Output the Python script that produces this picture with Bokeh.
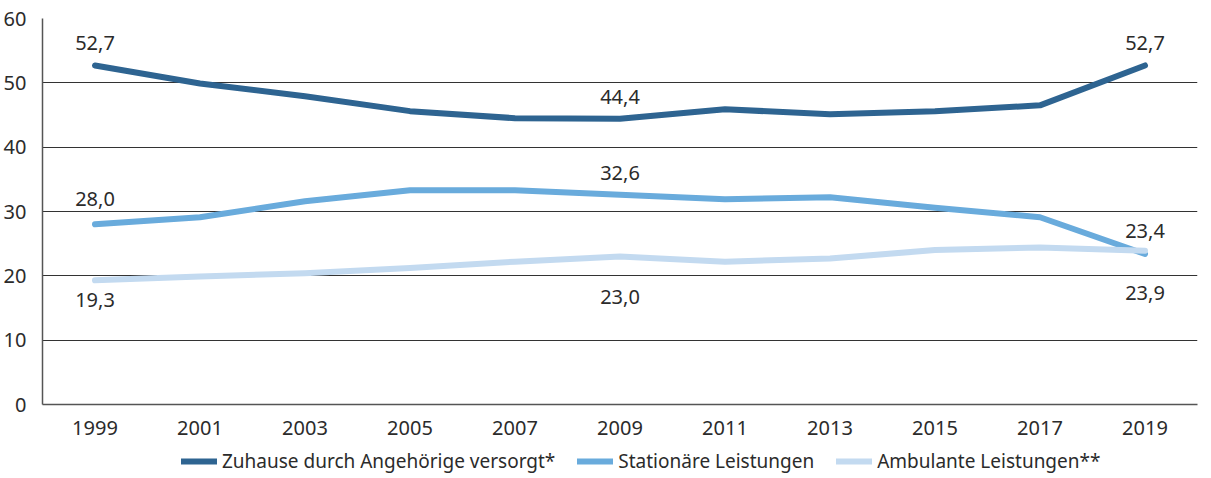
from bokeh.plotting import figure
from bokeh.layouts import column
from bokeh.models import (ColumnDataSource, Legend, LegendItem, SingleIntervalTicker,
                          Range1d, FactorRange)
from bokeh.core.properties import value
from bokeh.embed import file_html
from bokeh.resources import INLINE

years = ["1999", "2001", "2003", "2005", "2007", "2009", "2011", "2013", "2015", "2017", "2019"]
zuhause = [52.7, 49.9, 47.9, 45.6, 44.5, 44.4, 45.9, 45.1, 45.6, 46.5, 52.7]
stationaer = [28.0, 29.1, 31.6, 33.3, 33.3, 32.6, 31.9, 32.2, 30.6, 29.1, 23.4]
ambulant = [19.3, 19.9, 20.4, 21.2, 22.2, 23.0, 22.2, 22.7, 24.0, 24.4, 23.9]
series_names = ["Zuhause durch Angehörige versorgt*", "Stationäre Leistungen", "Ambulante Leistungen**"]
label_years = ["1999", "2009", "2019"]

colors = ["#2e6491", "#69abdc", "#c3daf0"]
# pixel offsets of the value labels (negative = above the line)
label_offsets = [[-22, -22, -22], [-25, -22, -23], [20, 40, 42]]

FONT = "Noto Sans"
TXT = "#2b2b2b"

p = figure(x_range=FactorRange(*years), y_range=Range1d(0, 60),
           width=1199, height=440,
           min_border_left=36, min_border_right=2, min_border_top=18, min_border_bottom=36,
           output_backend="svg", toolbar_location=None)
p.outline_line_color = None
p.background_fill_color = "white"

p.xgrid.grid_line_color = None
p.ygrid.grid_line_color = "#333333"
p.ygrid.grid_line_width = 1
p.yaxis.ticker = SingleIntervalTicker(interval=10)

for ax in (p.xaxis, p.yaxis):
    ax.major_tick_line_color = None
    ax.minor_tick_line_color = None
    ax.axis_line_color = "#555555"
    ax.axis_line_width = 1.5
    ax.major_label_text_font = FONT
    ax.major_label_text_font_size = "20px"
    ax.major_label_text_color = TXT
p.yaxis.major_label_standoff = 10
p.xaxis.major_label_standoff = 10

for vals, col in zip([zuhause, stationaer, ambulant], colors):
    src = ColumnDataSource(dict(x=years, y=vals))
    p.line("x", "y", source=src, line_color=col, line_width=6,
           line_cap="round", line_join="round")

for vals, offs in zip([zuhause, stationaer, ambulant], label_offsets):
    ys = [vals[years.index(yr)] for yr in label_years]
    txt = [f"{v:.1f}".replace(".", ",") for v in ys]
    src = ColumnDataSource(dict(x=label_years, y=ys, t=txt, off=offs))
    p.text("x", "y", text="t", y_offset="off", source=src,
           text_align="center", text_baseline="middle",
           text_font=value(FONT), text_font_size="20px", text_color=TXT)

# legend strip below the chart (dummy renderers lie outside the visible range)
lg = figure(width=1199, height=36, x_range=Range1d(0, 1), y_range=Range1d(0, 1),
            x_axis_location=None, y_axis_location=None,
            min_border_left=0, min_border_right=0, min_border_top=0, min_border_bottom=0,
            output_backend="svg", toolbar_location=None)
lg.outline_line_color = None
lg.grid.grid_line_color = None
leg_renderers = []
for col in colors:
    leg_renderers.append(lg.line(x=[5, 6], y=[5, 6], line_color=col, line_width=6, line_cap="round"))

legend = Legend(items=[LegendItem(label=n, renderers=[r]) for n, r in zip(series_names, leg_renderers)],
                orientation="horizontal", location=(139, 2),
                glyph_width=36, glyph_height=18, label_height=18, label_standoff=5, spacing=22,
                label_text_font=FONT, label_text_font_size="19px", label_text_color=TXT,
                border_line_color=None, background_fill_alpha=0,
                padding=2, margin=0)
lg.add_layout(legend, "center")

layout = column(p, lg, spacing=0)
open("out.html", "w").write(file_html(layout, INLINE))
